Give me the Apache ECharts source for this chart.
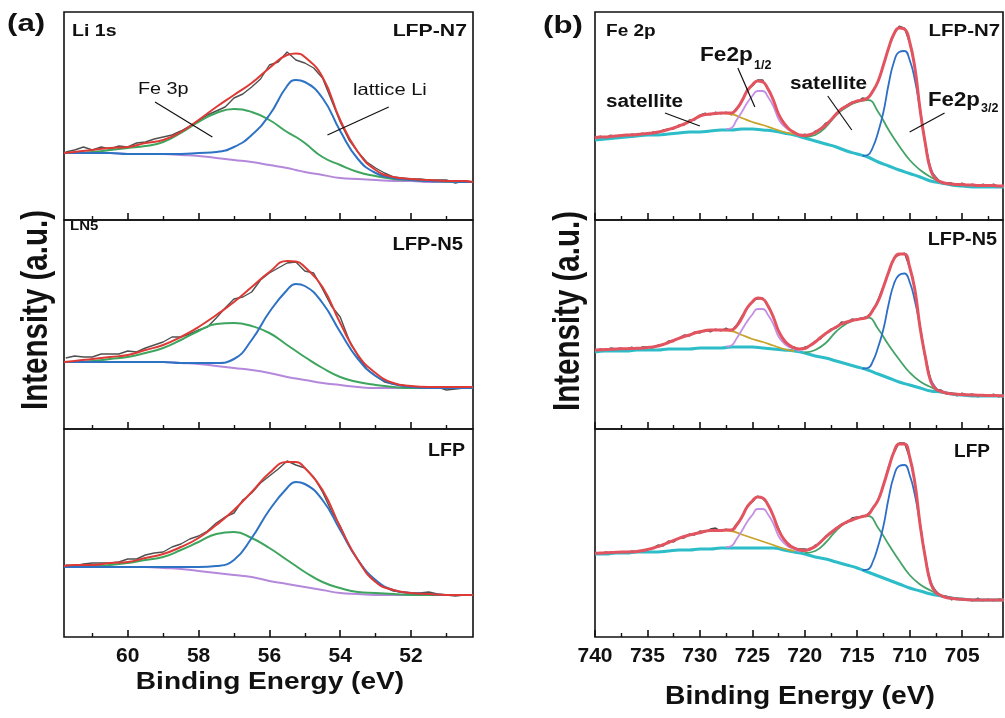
<!DOCTYPE html>
<html>
<head>
<meta charset="utf-8">
<script src="https://cdn.jsdelivr.net/npm/echarts@6/dist/echarts.min.js"></script>
<style>
html, body { margin: 0; padding: 0; background: #fff; }
#main { width: 1005px; height: 718px; }
</style>
</head>
<body>
<div id="main"></div>
<script>
// ---- (a) Li 1s : binding energy samples ----
var aE = [61.8, 61.5, 61, 60.5, 60, 59.5, 59, 58.5, 58, 57.5, 57, 56.5, 56, 55.5, 55.25, 55, 54.5, 54, 53.5, 53, 52.5, 52, 51.5, 51, 50.5, 50.25];
var aGE = [61.75, 61.5, 61.25, 61, 60.75, 60.5, 60.25, 60, 59.75, 59.5, 59.25, 59, 58.75, 58.5, 58.25, 58, 57.75, 57.5, 57.25, 57, 56.75, 56.5, 56.25, 56, 55.75, 55.5, 55.25, 55, 54.75, 54.5, 54.25, 54, 53.75, 53.5, 53.25, 53, 52.75, 52.5, 52.25, 52, 51.75, 51.5, 51.25, 51, 50.75, 50.5, 50.25];

// LFP-N7
var aN7Raw = [68, 70, 73, 70, 73, 71, 74, 73, 77, 78, 81, 83, 85, 89, 94, 99, 105, 109, 113, 122, 126, 133, 141, 155, 158, 168, 160, 157, 152, 142, 120, 98, 80, 68, 58, 52, 47, 43, 42, 41, 41, 40, 40, 40, 37, 39, 38];
var aN7Fit = [67, 68, 70, 72, 73, 77, 80, 88, 100, 113, 125, 137, 152, 165, 166.5, 163, 143, 100, 68, 50, 43, 41, 40, 39, 39, 38];
var aN7Li = [67, 67, 67, 67, 66, 66, 66, 66, 67, 68, 73, 85, 105, 134, 140, 138, 122, 89, 61, 47, 42, 40, 39, 38.5, 38, 38];
var aN7Fe = [67, 67, 68, 70, 72, 74, 78, 87, 98, 107, 111, 108, 100, 88, 83, 77, 63, 55, 48, 44, 41, 40, 39, 38.5, 38, 38];
var aN7Bg = [67, 67, 67, 67, 66, 66, 66, 65, 64, 62, 60, 58, 55, 52, 50, 48, 45, 42, 41, 40, 39, 39, 38, 38, 38, 38];
// LFP-N5
var aN5Raw = [71, 73, 72, 72, 75, 75, 75, 78, 77, 81, 84, 87, 92, 92, 95, 99, 102, 111, 121, 130, 132, 137, 149, 156, 161, 166, 167, 158, 156, 140, 123, 112, 89, 73, 60, 53, 47, 45, 44, 42, 42, 42, 42, 39, 40, 41, 42];
var aN5Fit = [67, 68, 70, 72, 74, 79, 84, 92, 102, 114, 127, 142, 157, 168, 167.5, 162, 142, 106, 74, 56, 46, 43, 42, 42, 42, 42];
var aN5Li = [67, 67, 67, 67, 67, 67, 67, 66, 66, 66, 70, 89, 117, 139, 145, 143, 126, 97, 70, 53, 45, 42, 41, 41, 41, 41];
var aN5Fe = [67, 67, 68, 70, 72, 76, 81, 89, 98, 105, 106, 103, 96, 84, 78, 72, 61, 52, 47, 44, 42, 41, 41, 41, 41, 41];
var aN5Bg = [67, 67, 67, 67, 67, 67, 67, 66, 65, 63, 61, 59, 56, 52, 50.5, 49, 46, 44, 42, 41, 41, 41, 41, 41, 41, 41];
// LFP
var aLfpRaw = [72, 71, 73, 74, 74, 74, 75, 78, 78, 82, 84, 85, 90, 93, 98, 101, 106, 114, 120, 124, 137, 144, 154, 161, 168, 176, 172, 169, 160, 145, 126, 111, 91, 77, 64, 55, 50, 46, 45, 44, 44, 45, 43, 42, 41, 42, 42];
var aLfpFit = [71, 72, 72, 74, 75, 79, 83, 90, 99, 112, 127, 145, 164, 175, 175, 169, 147, 110, 77, 55, 47, 44, 43, 42, 42, 42];
var aLfpLi = [70, 70, 70, 70, 70, 70, 70, 70, 70, 71, 77, 99, 127, 149, 155, 153, 137, 107, 77, 57, 47, 44, 43, 42, 42, 42];
var aLfpFe = [70, 71, 71, 72, 74, 77, 80, 87, 95, 103, 105, 99, 89, 77, 71, 65, 55, 49, 45, 44, 43, 42, 42, 42, 42, 42];
var aLfpBg = [70, 70, 70, 70, 70, 70, 69, 68, 66, 64, 62, 60, 56, 53, 51.5, 50, 47, 44, 43, 42, 42, 42, 42, 42, 42, 42];

// ---- (b) Fe 2p ----
var bE = [740, 739, 738, 737, 736, 735, 734, 733, 732, 731, 730, 729, 728, 727, 726, 725, 724, 723, 722, 721, 720, 719, 718, 717, 716, 715, 714, 713, 712, 711, 710, 709, 708, 707, 706, 705, 704, 703, 702, 701];
var bGE = [740, 739.5, 739, 738.5, 738, 737.5, 737, 736.5, 736, 735.5, 735, 734.5, 734, 733.5, 733, 732.5, 732, 731.5, 731, 730.5, 730, 729.5, 729, 728.5, 728, 727.5, 727, 726.5, 726, 725.5, 725, 724.5, 724, 723.5, 723, 722.5, 722, 721.5, 721, 720.5, 720, 719.5, 719, 718.5, 718, 717.5, 717, 716.5, 716, 715.5, 715, 714.5, 714, 713.5, 713, 712.5, 712, 711.5, 711, 710.5, 710, 709.5, 709, 708.5, 708, 707.5, 707, 706.5, 706, 705.5, 705, 704.5, 704, 703.5, 703, 702.5, 702, 701.5, 701];
var bSatE = [734, 733, 732, 731, 730, 729, 728, 727, 726, 725, 724, 723, 722, 721];
var bHalfE = [727.5, 727, 726.5, 726, 725.5, 725, 724.5, 724, 723.5, 723, 722.5, 722, 721.5, 721, 720.5];
var bMainE = [714.5, 714, 713.5, 713, 712.5, 712, 711.5, 711, 710.5, 710, 709.5, 709, 708.5, 708, 707.5, 707, 706.5, 706];
var bShakeE = [720, 719, 718, 717, 716, 715, 714, 713, 712, 711, 710, 709, 708, 707, 706, 705];

// LFP-N7
var bN7Raw = [81, 84, 82, 85, 83, 85, 84, 86, 85, 87, 85, 88, 87, 90, 91, 91, 95, 95, 100, 100, 105, 107, 105, 108, 106, 108, 105, 112, 118, 131, 134, 140, 140, 130, 121, 105, 98, 90, 88, 84, 86, 84, 89, 91, 97, 99, 107, 110, 115, 118, 118, 122, 121, 130, 138, 156, 173, 185, 194, 192, 177, 153, 109, 77, 49, 43, 37, 37, 37, 35, 37, 34, 36, 33, 36, 34, 36, 33, 35];
var bN7Fit = [82, 83, 83, 83.5, 84, 84.5, 85, 85, 85.5, 86, 86.5, 87, 88, 89, 90.5, 92, 94, 96, 98.5, 101, 104, 105.5, 106, 106.5, 107, 107, 107, 111, 119, 129, 135, 139, 138, 131, 120, 106, 97, 91, 87.5, 85, 84.5, 85.5, 87.5, 91, 95, 100, 106, 111, 114, 117, 119, 120, 122, 129, 139, 155, 172, 186, 192, 191, 178, 152, 110, 76, 50, 41, 38, 36.5, 36, 35.5, 35.5, 35, 35, 34.5, 34.5, 34.5, 34.5, 34, 34];
var bN7Bg = [80, 81, 82, 83, 84, 85, 85, 86, 87, 88, 88, 89, 90, 90, 91, 91, 90, 89, 87, 85, 82, 79, 76, 73, 69, 66, 63, 58, 54, 50, 46.5, 43, 39, 37, 35, 34, 33, 33, 33, 33];
var bN7Sat = [88, 90.5, 94, 98.5, 104, 106, 107, 106, 102, 98, 95, 91.5, 88, 86];
var bN7Half = [91, 92, 100, 108, 117, 124, 129, 129, 123, 114, 101, 94, 90, 88, 84];
var bN7Main = [64, 65, 73, 88, 108, 136, 158, 168, 169, 160, 140, 110, 76, 52, 42, 38, 36.5, 35.5];
var bN7Shake = [83, 85, 93, 105, 113, 118, 120, 108, 90, 74, 60, 50, 43, 38, 35.5, 34.5];
// LFP-N5
var bN5Raw = [78, 80, 79, 81, 80, 81, 79, 82, 80, 82, 82, 81, 84, 84, 88, 88, 91, 94, 93, 97, 96, 99, 97, 100, 98, 101, 98, 104, 113, 120, 128, 130, 131, 122, 113, 97, 90, 83, 82, 80, 82, 83, 88, 90, 96, 100, 101, 107, 106, 110, 109, 111, 113, 118, 130, 143, 156, 171, 174, 176, 161, 141, 100, 73, 49, 39, 39, 35, 36, 33, 36, 34, 35, 32, 34, 33, 35, 32, 35];
var bN5Fit = [79, 79.2, 79.5, 79.7, 80, 80.2, 80.3, 80.5, 80.7, 81, 81.5, 82, 83, 84.5, 86.5, 88.5, 90.7, 92.5, 94, 96, 97.3, 98.3, 99, 99, 99, 99, 99, 103, 111, 121, 127, 131, 130, 123, 112, 98, 89, 84, 81, 80, 80.5, 83.5, 87, 91.5, 95.5, 99, 102, 105, 107, 108.5, 109.5, 110.5, 112, 119, 128, 142, 157, 170, 175, 175, 162, 139, 101, 72, 48, 40, 37.5, 36, 35.2, 34.8, 34.5, 34.2, 34, 33.8, 33.7, 33.5, 33.5, 33.3, 33.3];
var bN5Bg = [77, 78, 78, 78, 79, 79, 79, 80, 80, 80, 81, 81, 81, 82, 82, 82, 81, 80, 79, 78, 76, 73, 71, 68, 65, 62, 59, 55, 51, 47, 44, 41, 38, 37, 35, 34, 33, 33, 33, 33];
var bN5Sat = [83, 86.5, 90.5, 94, 97.5, 99, 99, 98, 94, 90, 87, 83.5, 80, 78];
var bN5Half = [82.5, 83.5, 90.5, 99, 107.5, 114.5, 120, 120, 114, 105, 92.5, 86, 82, 80.5, 77.5];
var bN5Main = [60.5, 61, 68, 82, 100, 125, 145, 154, 155.5, 147, 128, 102, 71, 50, 41, 37.5, 36, 35.5];
var bN5Shake = [76.5, 79, 86, 97.5, 105.5, 110, 111.5, 100, 84, 69.5, 56.5, 47.5, 42, 37.5, 35.5, 34.5];
// LFP
var bLfpRaw = [85, 83, 85, 84, 85, 85, 84, 86, 85, 87, 87, 89, 92, 91, 96, 95, 99, 99, 103, 102, 106, 105, 108, 109, 106, 108, 106, 113, 119, 131, 135, 141, 138, 133, 121, 109, 97, 93, 88, 88, 88, 87, 92, 94, 101, 104, 109, 113, 114, 119, 120, 120, 123, 128, 138, 151, 171, 184, 194, 194, 179, 155, 111, 80, 53, 46, 41, 41, 37, 39, 37, 38, 36, 39, 36, 38, 36, 38, 37];
var bLfpFit = [83.7, 84, 84.2, 84.5, 84.7, 84.9, 85, 85.2, 85.5, 86.3, 87.5, 88.8, 90.3, 92.3, 94.5, 96.7, 98.7, 100.5, 102, 103.2, 104.3, 105.7, 106.5, 106.5, 106.5, 107, 107, 112, 120, 130, 136, 140, 139, 132, 121, 107, 98, 92, 89, 87, 86.5, 88, 90.5, 95, 100, 104.5, 108.5, 112, 115, 117, 119, 120.5, 122, 129, 137, 152, 169, 185, 193, 193, 180, 154, 112, 79, 54, 44.5, 41.5, 39.5, 38.7, 38, 37.7, 37.3, 37, 37, 37, 37, 37, 37, 37];
var bLfpBg = [83, 83, 84, 84, 85, 85, 85, 86, 87, 87, 88, 88, 89, 89, 89, 89, 89, 89, 87, 85, 83, 80, 78, 75, 72, 69, 65, 61, 57, 53, 49, 46, 43, 41, 39, 38, 37, 37, 37, 37];
var bLfpSat = [90.3, 94.5, 98.7, 102, 104.5, 106.5, 107, 106, 102.5, 99, 95.5, 92, 88.5, 86];
var bLfpHalf = [90, 91, 98, 106, 115, 122, 128, 128, 122.5, 113.5, 101, 94, 90, 88, 85];
var bLfpMain = [67, 67.5, 75.5, 91, 111, 139, 161, 171, 172, 162, 142, 112.5, 79, 55.5, 45.5, 41.5, 40, 39];
var bLfpShake = [84, 86, 94.5, 106.5, 115, 119.5, 121, 109, 92.5, 76.5, 62, 52.5, 46.5, 41.5, 39, 38];

// tick labels
var aMajor = [52, 54, 56, 58, 60];
var aMinor = [51, 53, 55, 57, 59, 61];
var bMajor = [705, 710, 715, 720, 725, 730, 735, 740];
var bMinor = [702.5, 707.5, 712.5, 717.5, 722.5, 727.5, 732.5, 737.5];

// leader lines of the annotations [E, intensity]
var aLeaders = [[[59.23, 118], [57.61, 83]], [[52.63, 113], [54.36, 85]]];
var bLeaders = [[[726.38, 152], [724.76, 113]], [[733.33, 107], [730, 94]], [[717.81, 124], [715.52, 90]], [[706.67, 107], [710, 88]]];

var FONT = '"Liberation Sans", Arial, Helvetica, sans-serif';

var chart = echarts.init(document.getElementById('main'), null, { renderer: 'canvas' });

function pairs (xs, ys) {
	return xs.map(function (x, i) { return [x, ys[i]]; });
}

//子图位置
var subTops = [12, 220, 429];
var subHeights = [208, 209, 208];
var grids = [], xAxes = [], yAxes = [], series = [];

function addPanel (gi, left, width, xmin, xmax, major, minor, isBottom) {
	grids.push({ left: left, width: width, top: subTops[gi % 3], height: subHeights[gi % 3], show: true, borderColor: '#111', borderWidth: 1.6, backgroundColor: 'transparent' });
	var base = { type: 'value', gridIndex: gi, min: xmin, max: xmax, inverse: true, position: 'bottom', splitLine: { show: false }, axisLine: { show: false } };
	xAxes.push(Object.assign({}, base, {
		axisTick: { show: true, inside: true, length: 7, customValues: major, lineStyle: { color: '#111', width: 1.6 } },
		axisLabel: { show: isBottom, customValues: major, margin: 9, fontSize: 21, fontWeight: 'bold', color: '#111', fontFamily: FONT }
	}));
	xAxes.push(Object.assign({}, base, {
		axisTick: { show: true, inside: true, length: 4, customValues: minor, lineStyle: { color: '#111', width: 1.4 } },
		axisLabel: { show: false }
	}));
	yAxes.push({ type: 'value', gridIndex: gi, min: 0, max: subHeights[gi % 3], show: false });
}

function line (gi, xs, ys, color, width, smooth, extra) {
	var s = {
		type: 'line', xAxisIndex: gi * 2, yAxisIndex: gi, data: pairs(xs, ys),
		symbol: 'none', smooth: smooth, silent: true,
		lineStyle: { color: color, width: width }
	};
	return Object.assign(s, extra || {});
}

function leaders (list) {
	return {
		silent: true, symbol: ['none', 'none'], label: { show: false },
		lineStyle: { color: '#111', width: 1.2, type: 'solid' },
		data: list.map(function (l) { return [{ coord: l[0] }, { coord: l[1] }]; })
	};
}

// (a)
var aSets = [
	[aN7Raw, aN7Bg, aN7Fe, aN7Li, aN7Fit],
	[aN5Raw, aN5Bg, aN5Fe, aN5Li, aN5Fit],
	[aLfpRaw, aLfpBg, aLfpFe, aLfpLi, aLfpFit]
];
aSets.forEach(function (d, i) {
	addPanel(i, 64, 409, 50.25, 61.8, aMajor, aMinor, i == 2);
	series.push(line(i, aGE, d[0], '#505050', 1.4, false));
	series.push(line(i, aE, d[1], '#b488da', 2, 0.5));
	series.push(line(i, aE, d[2], '#3ea55e', 2, 0.5));
	series.push(line(i, aE, d[3], '#2e72c4', 2, 0.5));
	series.push(line(i, aE, d[4], '#de3a35', 2, 0.5, i == 0 ? { markLine: leaders(aLeaders) } : null));
});

// (b)
var bSets = [
	[bN7Raw, bN7Bg, bN7Sat, bN7Half, bN7Shake, bN7Main, bN7Fit],
	[bN5Raw, bN5Bg, bN5Sat, bN5Half, bN5Shake, bN5Main, bN5Fit],
	[bLfpRaw, bLfpBg, bLfpSat, bLfpHalf, bLfpShake, bLfpMain, bLfpFit]
];
bSets.forEach(function (d, i) {
	var gi = i + 3;
	addPanel(gi, 595, 408, 701.1, 740, bMajor, bMinor, i == 2);
	series.push(line(gi, bGE, d[0], '#4a4a4a', 1.3, false));
	series.push(line(gi, bE, d[1], '#2dbdc8', 3, 0.5));
	series.push(line(gi, bSatE, d[2], '#c9a228', 1.8, 0.5));
	series.push(line(gi, bHalfE, d[3], '#c390e4', 1.8, 0.5));
	series.push(line(gi, bShakeE, d[4], '#44a468', 1.8, 0.5));
	series.push(line(gi, bMainE, d[5], '#2d6fc6', 1.8, 0.5));
	series.push(line(gi, bGE, d[6], '#e25460', 3, 0.5, i == 0 ? { markLine: leaders(bLeaders) } : null));
});

function txt (x, y, text, size, opt) {
	opt = opt || {};
	return {
		type: 'text', x: x, y: y, rotation: opt.rot || 0, scaleX: opt.sx || 1, silent: true, z: 100,
		style: {
			text: text, fontSize: size, fontWeight: opt.normal ? 'normal' : 'bold', fontFamily: FONT,
			fill: '#111', align: opt.align || 'left', verticalAlign: 'middle'
		}
	};
}

var graphics = [
	txt(7, 24, '(a)', 24, { sx: 1.3 }),
	txt(543, 26, '(b)', 24, { sx: 1.3 }),
	txt(72, 31, 'Li 1s', 17, { sx: 1.15 }),
	txt(467, 31, 'LFP-N7', 17, { sx: 1.25, align: 'right' }),
	txt(70, 227, 'LN5', 12.5, { sx: 1.2 }),
	txt(463, 245, 'LFP-N5', 18, { sx: 1.12, align: 'right' }),
	txt(465, 451, 'LFP', 18.5, { sx: 1.06, align: 'right' }),
	txt(138, 89, 'Fe 3p', 16.5, { sx: 1.2, normal: true }),
	txt(353, 90, 'lattice Li', 16.5, { sx: 1.22, normal: true }),
	txt(606, 31.5, 'Fe 2p', 17, { sx: 1.12 }),
	txt(1000, 31, 'LFP-N7', 17, { sx: 1.2, align: 'right' }),
	txt(997, 240, 'LFP-N5', 18, { sx: 1.1, align: 'right' }),
	txt(990, 452, 'LFP', 19, { align: 'right' }),
	txt(700, 56, 'Fe2p', 19.5, { sx: 1.16 }),
	txt(754, 66, '1/2', 12.5),
	txt(606, 102, 'satellite', 18, { sx: 1.15 }),
	txt(790, 84, 'satellite', 18, { sx: 1.15 }),
	txt(928, 101, 'Fe2p', 19.5, { sx: 1.14 }),
	txt(981, 109, '3/2', 12.5),
	txt(37, 310, 'Intensity (a.u.)', 36, { sx: 0.82, rot: Math.PI / 2, align: 'center' }),
	txt(569, 311, 'Intensity (a.u.)', 36, { sx: 0.82, rot: Math.PI / 2, align: 'center' }),
	txt(270, 682, 'Binding Energy (eV)', 24, { sx: 1.17, align: 'center' }),
	txt(800, 697, 'Binding Energy (eV)', 25, { sx: 1.13, align: 'center' })
];

chart.setOption({
	animation: false,
	backgroundColor: '#fff',
	grid: grids,
	xAxis: xAxes,
	yAxis: yAxes,
	series: series,
	graphic: graphics
});
</script>
</body>
</html>
